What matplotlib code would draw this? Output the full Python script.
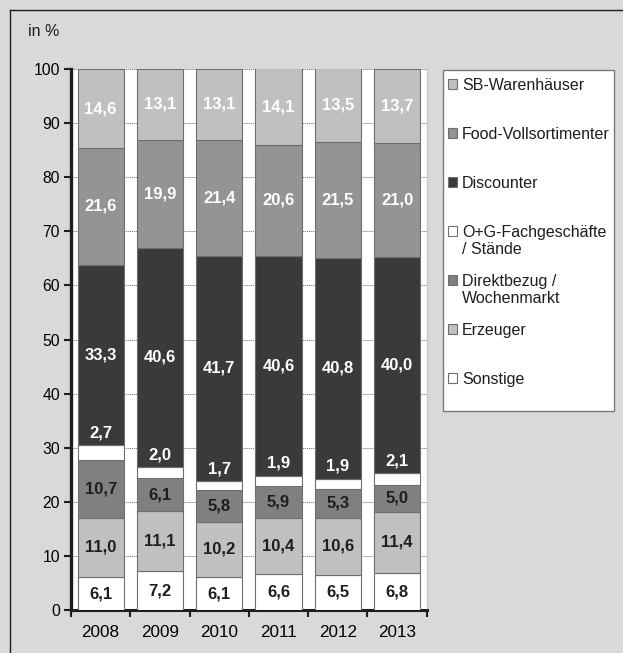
import matplotlib.pyplot as plt
from matplotlib.patches import Rectangle
from matplotlib.lines import Line2D
import numpy as np

plt.rcParams['font.family'] = ['Liberation Sans', 'DejaVu Sans']

# data (bottom to top)
years = ['2008', '2009', '2010', '2011', '2012', '2013']
sonstige = [6.1, 7.2, 6.1, 6.6, 6.5, 6.8]
erzeuger = [11.0, 11.1, 10.2, 10.4, 10.6, 11.4]
direktbezug = [10.7, 6.1, 5.8, 5.9, 5.3, 5.0]
og_fach = [2.7, 2.0, 1.7, 1.9, 1.9, 2.1]
discounter = [33.3, 40.6, 41.7, 40.6, 40.8, 40.0]
food_voll = [21.6, 19.9, 21.4, 20.6, 21.5, 21.0]
sb_waren = [14.6, 13.1, 13.1, 14.1, 13.5, 13.7]

# (first legend line, second legend line, values, fill, label colour)
series = [
    ("Sonstige", "", sonstige, "#ffffff", "#1e1e1e"),
    ("Erzeuger", "", erzeuger, "#c0c0c2", "#1e1e1e"),
    ("Direktbezug /", "Wochenmarkt", direktbezug, "#808082", "#1e1e1e"),
    ("O+G-Fachgeschäfte", "/ Stände", og_fach, "#ffffff", "#ffffff"),
    ("Discounter", "", discounter, "#3a3a3a", "#ffffff"),
    ("Food-Vollsortimenter", "", food_voll, "#949496", "#ffffff"),
    ("SB-Warenhäuser", "", sb_waren, "#c0c0c2", "#ffffff"),
]

fig = plt.figure(figsize=(6.23, 6.53), dpi=100)
fig.patch.set_facecolor('#d9d9db')
ax = fig.add_axes([0.114, 0.0658, 0.571, 0.8285])
ax.set_facecolor('white')

x = np.arange(len(years))
bottom = np.zeros(len(years))
handles = []
for name, _, vals, color, tcol in series:
    vals = np.array(vals)
    bars = ax.bar(x, vals, 0.78, bottom=bottom, color=color,
                  edgecolor='#6e6e6e', linewidth=0.8, zorder=3)
    handles.append(bars)
    for xi, b, v in zip(x, bottom, vals):
        if name.startswith("O+G"):
            ypos = b + v + 2.3
        else:
            ypos = b + v / 2
        ax.text(xi, ypos, f"{v:.1f}".replace('.', ','), ha='center', va='center',
                color=tcol, fontsize=12, fontweight='bold', zorder=5)
    bottom += vals

ax.set_xlim(-0.5, 5.5)
ax.set_ylim(0, 100)
ax.set_yticks(np.arange(0, 101, 10))
ax.tick_params(axis='y', labelsize=11.3, length=5, width=1.5, color='#1e1e1e', pad=3)
ax.set_xticks(x)
ax.set_xticklabels(years)
ax.tick_params(axis='x', which='major', length=0, labelsize=12.3, pad=11)
ax.set_xticks(np.arange(-0.5, 6, 1), minor=True)
ax.tick_params(axis='x', which='minor', length=5, width=1.5, color='#1e1e1e')
ax.yaxis.grid(True, linestyle=(0, (1.5, 1)), color='#707070', linewidth=0.6, zorder=0)
ax.set_axisbelow(True)

ax.spines['left'].set_linewidth(2.4)
ax.spines['left'].set_color('#1e1e1e')
ax.spines['bottom'].set_linewidth(2.2)
ax.spines['bottom'].set_color('#1e1e1e')
ax.spines['top'].set_visible(False)
ax.spines['right'].set_color('#c8c8c8')
ax.spines['right'].set_linewidth(1.0)

fig.text(0.045, 0.951, "in %", fontsize=11.5, ha='left', va='center', color='#1e1e1e')

# outer frame (top and left)
fig.add_artist(Line2D([0.016, 1.0], [0.985, 0.985], color='#1e1e1e', lw=1.0))
fig.add_artist(Line2D([0.016, 0.016], [0.0, 0.985], color='#1e1e1e', lw=1.0))

# legend box
fig.add_artist(Rectangle((0.711, 0.371), 0.275, 0.522, transform=fig.transFigure,
                         facecolor='white', edgecolor='#7a7a7a', lw=1.0, zorder=1))
leg = fig.legend(handles[::-1], [s[0] for s in series][::-1], loc='upper left',
                 bbox_to_anchor=(0.7195, 0.881), frameon=False, fontsize=11.5,
                 handlelength=0.55, handleheight=0.55, handletextpad=0.3,
                 labelspacing=2.13, borderaxespad=0, borderpad=0)
for t in leg.get_texts():
    t.set_color('#1e1e1e')

# second lines of two-line legend entries
fig.canvas.draw()
for t, s in zip(leg.get_texts(), series[::-1]):
    if s[1]:
        bb = t.get_window_extent()
        fig.text(bb.x0 / fig.bbox.width, (bb.y0 - 2) / fig.bbox.height, s[1],
                 fontsize=11.5, ha='left', va='top', color='#1e1e1e')

fig.savefig('out.png', dpi=100, facecolor=fig.get_facecolor())
